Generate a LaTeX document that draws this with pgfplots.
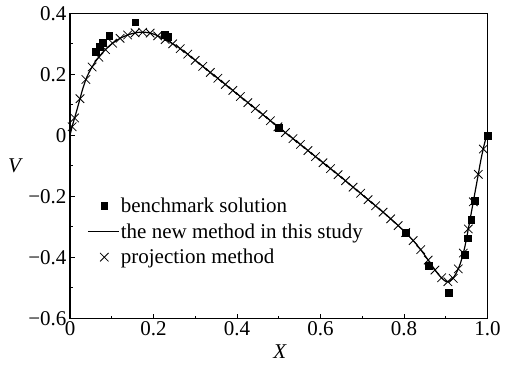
\documentclass[border=0pt]{standalone}
\usepackage{fontspec}
\setmainfont{Liberation Serif}
\usepackage{pgfplots}
\pgfplotsset{compat=1.18}
\pgfplotsset{
  marklegend/.style={legend image code/.code={\draw[mark repeat=2,mark phase=2,##1] plot coordinates {(0pt,0pt) (16.5pt,0pt) (33pt,0pt)};}},
  linelegend/.style={legend image code/.code={\draw[##1] (0pt,0pt) -- (31pt,0pt);}},
}
\begin{document}
\begin{tikzpicture}
\begin{axis}[
  scale only axis,
  width=417.5pt, height=305pt,
  xmin=0, xmax=1, ymin=-0.6, ymax=0.4,
  xtick={0,0.2,0.4,0.6,0.8,1.0},
  xticklabels={0,0.2,0.4,0.6,0.8,1.0},
  ytick={-0.6,-0.4,-0.2,0,0.2,0.4},
  yticklabels={−0.6,−0.4,−0.2,0,0.2,0.4},
  minor xtick={0.1,0.3,0.5,0.7,0.9},
  minor ytick={-0.5,-0.3,-0.1,0.1,0.3},
  xtick pos=bottom, ytick pos=left,
  tick align=inside,
  major tick length=4.5pt, minor tick length=2.5pt,
  every tick/.style={black, line width=1pt},
  axis line style={line width=1.2pt},
  font=\fontsize{21}{25}\selectfont,
  tick label style={font=\fontsize{21}{25}\selectfont},
  xlabel={\textit{X}}, ylabel={\textit{V}},
  xlabel style={at={(axis description cs:0.503,0)}, anchor=north, yshift=-26pt, inner sep=0pt},
  ylabel style={rotate=-90, at={(axis description cs:0,0.5)}, anchor=west, xshift=-62pt, inner sep=0pt},
  legend style={draw=none, fill=none, at={(axis description cs:0.0407,0.40)}, anchor=north west,
    font=\fontsize{21}{25}\selectfont, inner sep=0pt, row sep=6.5pt,
    nodes={inner sep=1.5pt}},
  legend cell align=left,
]
\addplot[only marks, mark=square*, mark size=3.4pt, black, marklegend]
coordinates {
(0.0625,0.27485) (0.0703,0.29012) (0.0781,0.30353) (0.0938,0.32627)
(0.1563,0.37095) (0.2266,0.33075) (0.2344,0.32235) (0.5,0.02526)
(0.8047,-0.31966) (0.8594,-0.42665) (0.9063,-0.51550) (0.9453,-0.39188)
(0.9531,-0.33714) (0.9609,-0.27669) (0.9688,-0.21388) (1.0,0.0)
};
\addlegendentry{benchmark solution}
\addplot[black, line width=1.2pt, no marks, smooth, linelegend]
coordinates {
(0,0) (0.005,0.028) (0.01,0.052) (0.02,0.100) (0.03,0.150) (0.04,0.190)
(0.05,0.217) (0.06,0.240) (0.07,0.258) (0.08,0.274) (0.09,0.288) (0.10,0.300)
(0.12,0.318) (0.14,0.330) (0.16,0.337) (0.18,0.338) (0.20,0.332) (0.22,0.320)
(0.24,0.305) (0.26,0.288) (0.28,0.268) (0.30,0.246) (0.35,0.191) (0.40,0.136)
(0.45,0.081) (0.50,0.026) (0.55,-0.028) (0.60,-0.083) (0.65,-0.138) (0.70,-0.195)
(0.75,-0.252) (0.78,-0.288) (0.80,-0.314) (0.82,-0.342) (0.84,-0.375) (0.86,-0.413)
(0.88,-0.452) (0.895,-0.474) (0.905,-0.480) (0.915,-0.472) (0.925,-0.452)
(0.935,-0.420) (0.945,-0.370) (0.955,-0.300) (0.965,-0.225) (0.975,-0.150)
(0.985,-0.075) (0.995,-0.015) (1.0,0)
};
\addlegendentry{the new method in this study}
\addplot[only marks, mark=x, mark size=6pt, black, mark options={line width=0.8pt}, marklegend]
coordinates {
(0.005,0.028) (0.011,0.057) (0.024,0.120) (0.038,0.183) (0.053,0.224) (0.069,0.256)
(0.085,0.281) (0.102,0.302) (0.120,0.318) (0.138,0.329) (0.156,0.336) (0.174,0.338)
(0.192,0.335) (0.210,0.326) (0.228,0.314) (0.246,0.300) (0.264,0.284) (0.282,0.266)
(0.300,0.246) (0.318,0.226) (0.336,0.206) (0.354,0.187) (0.372,0.167) (0.390,0.147)
(0.408,0.127) (0.426,0.107) (0.444,0.088) (0.462,0.068) (0.480,0.048) (0.498,0.028)
(0.516,0.009) (0.534,-0.011) (0.552,-0.030) (0.570,-0.050) (0.588,-0.070) (0.606,-0.090)
(0.624,-0.109) (0.642,-0.129) (0.660,-0.149) (0.678,-0.170) (0.696,-0.190) (0.714,-0.211)
(0.732,-0.231) (0.750,-0.252) (0.768,-0.274) (0.786,-0.296) (0.804,-0.319) (0.822,-0.345)
(0.840,-0.375) (0.858,-0.409) (0.874,-0.442) (0.890,-0.467) (0.905,-0.480) (0.918,-0.469)
(0.930,-0.438) (0.942,-0.386) (0.954,-0.307) (0.966,-0.218) (0.978,-0.128) (0.990,-0.045)
};
\addlegendentry{projection method}
\end{axis}
\pgfresetboundingbox
\path[use as bounding box] (-70pt,-49.7pt) rectangle (443pt,318.3pt);
\end{tikzpicture}
\end{document}
